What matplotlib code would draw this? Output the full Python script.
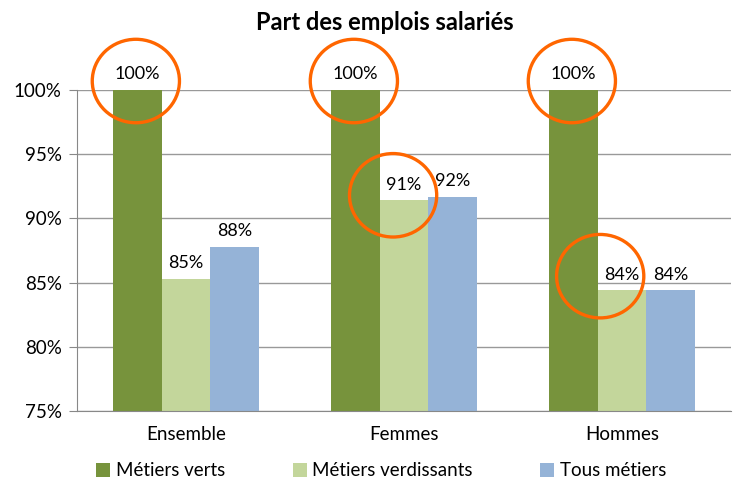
import numpy as np
import matplotlib.pyplot as plt
from matplotlib.patches import Ellipse

categories = ["Ensemble", "Femmes", "Hommes"]
series = ["Métiers verts", "Métiers verdissants", "Tous métiers"]
verts = [100, 100, 100]
verdissants = [85.3, 91.4, 84.4]
tous = [87.8, 91.7, 84.4]
labels = [["100%", "100%", "100%"], ["85%", "91%", "84%"], ["88%", "92%", "84%"]]
colors = ["#77933C", "#C3D69B", "#95B3D7"]

# cercles orange : (x, y) en unités des données
circles = [(-0.23, 100.7), (0.77, 100.7), (1.77, 100.7), (0.95, 91.8), (1.90, 85.5)]

plt.rcParams['font.family'] = ['Lato', 'DejaVu Sans']

fig = plt.figure(figsize=(7.42, 4.93), dpi=100)
ax = fig.add_axes([77/742, 1-411/493, 654/742, 321/493])

x = np.arange(len(categories))
w = 0.223
for i, (vals, c) in enumerate(zip([verts, verdissants, tous], colors)):
    pos = x + (i - 1) * w
    ax.bar(pos, np.array(vals) - 75, w, bottom=75, color=c, label=series[i], zorder=2)
    for p, v, t in zip(pos, vals, labels[i]):
        ax.text(p, v + 0.6, t, ha="center", va="bottom", fontsize=13, clip_on=False)

for cx, cy in circles:
    ax.add_patch(Ellipse((cx, cy), 0.40, 6.5, fill=False, edgecolor="#FF6600",
                         linewidth=2.4, clip_on=False, zorder=5))

ax.set_xlim(-0.5, 2.5)
ax.set_ylim(75, 100)
ax.set_yticks([75, 80, 85, 90, 95, 100])
ax.set_yticklabels(["75%", "80%", "85%", "90%", "95%", "100%"], fontsize=13.5)
ax.set_xticks(x)
ax.set_xticklabels(categories, fontsize=13.5)
ax.tick_params(axis="x", length=0, pad=11)
ax.tick_params(axis="y", length=6, color="#888888", pad=5)
ax.grid(axis="y", color="#999999", linewidth=1, zorder=0)
ax.set_axisbelow(True)
for s in ["top", "right"]:
    ax.spines[s].set_visible(False)
for s in ["left", "bottom"]:
    ax.spines[s].set_color("#888888")

fig.text(0.518, 1 - 22/493, "Part des emplois salariés", ha="center", va="center",
         fontsize=17, fontweight="bold")
fig.legend(loc="center", bbox_to_anchor=(0.514, 1 - 471/493), ncol=3, frameon=False,
           fontsize=13.5, handlelength=0.75, handleheight=0.75, columnspacing=3.6,
           handletextpad=0.3)

fig.savefig("out.png", dpi=100)
